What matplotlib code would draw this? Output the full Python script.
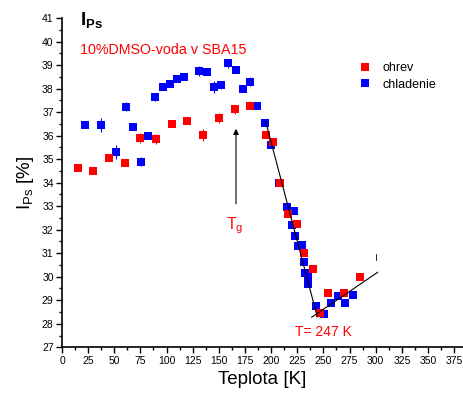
import matplotlib
matplotlib.use('Agg')
import matplotlib.pyplot as plt
from matplotlib.lines import Line2D
from matplotlib.ticker import MultipleLocator

plt.rcParams['font.family'] = ['Liberation Sans', 'DejaVu Sans']
plt.rcParams['mathtext.fontset'] = 'custom'
plt.rcParams['mathtext.rm'] = 'Liberation Sans'
plt.rcParams['mathtext.bf'] = 'Liberation Sans:bold'

# ohrev (heating)
t_ohrev = [15, 30, 45, 60, 75, 90, 105, 120, 135, 150, 165, 180, 195, 202, 208.5,
           215.8, 225, 231.7, 239.7, 246.7, 254.7, 270, 285]
i_ohrev = [34.64, 34.48, 35.03, 34.84, 35.9, 35.86, 36.48, 36.61, 36.03, 36.74, 37.12, 37.27,
           36.03, 35.74, 33.97, 32.65, 32.23, 31.0, 30.33, 28.47, 29.31, 29.32, 29.98]
e_ohrev = [0, 0, 0, 0.12, 0.2, 0.2, 0, 0.05, 0.25, 0.2, 0.2, 0.15,
           0.1, 0, 0.05, 0.1, 0, 0, 0, 0, 0, 0, 0.05]

# chladenie (cooling)
t_chlad = [22, 37, 51.6, 60.9, 68.2, 75.2, 82.2, 88.9, 96.3, 103.3, 110.3, 117, 131.3, 138.3,
           145.3, 151.7, 159, 166, 172.8, 179.8, 186.8, 194.1, 200.2, 207.8, 214.8, 222.2,
           220.2, 222.9, 225.9, 229.8, 231.4, 232.4, 235.5, 235.5, 242.9, 250.8, 257.2,
           263.6, 270.6, 278]
i_chlad = [36.45, 36.45, 35.29, 37.23, 36.38, 34.89, 35.98, 37.63, 38.05, 38.2, 38.42, 38.49,
           38.75, 38.72, 38.08, 38.15, 39.07, 38.78, 38.0, 38.29, 37.27, 36.52, 35.6, 33.97,
           32.98, 32.81, 32.2, 31.73, 31.31, 31.35, 30.64, 30.17, 30.0, 29.68, 28.76, 28.4,
           28.9, 29.2, 28.87, 29.22]
e_chlad = [0.1, 0.3, 0.3, 0.2, 0.15, 0.2, 0, 0.15, 0, 0, 0.05, 0.05, 0.2, 0,
           0.25, 0.15, 0.2, 0.05, 0, 0.2, 0.15, 0, 0, 0, 0, 0,
           0, 0, 0, 0, 0, 0, 0, 0, 0, 0, 0, 0, 0, 0]

# fitted lines
fit1_t = [194.8, 244.1]
fit1_i = [36.59, 28.3]
fit2_t = [238.8, 301.9]
fit2_i = [28.28, 30.19]

red = '#ff0000'
blue = '#0000ff'

fig = plt.figure(figsize=(4.63, 3.96), dpi=100)
ax = fig.add_axes([62 / 463, 48.7 / 396, (463 - 62) / 463, 329.3 / 396])

ax.errorbar(t_chlad, i_chlad, yerr=e_chlad, fmt='s', color=blue, ms=6, mew=0,
            elinewidth=0.8, capsize=3, capthick=0.8, zorder=3)
ax.errorbar(t_ohrev, i_ohrev, yerr=e_ohrev, fmt='s', color=red, ms=6, mew=0,
            elinewidth=0.8, capsize=3, capthick=0.8, zorder=4)

ax.plot(fit1_t, fit1_i, color='k', lw=0.8, zorder=5)
ax.plot(fit2_t, fit2_i, color='k', lw=0.8, zorder=5)
ax.plot([300, 300], [30.72, 30.98], color='k', lw=0.6)

ax.annotate('', xy=(166.4, 36.41), xytext=(166.4, 32.98),
            arrowprops=dict(arrowstyle='-|>', color='k', lw=0.8, mutation_scale=8))
ax.text(165.4, 32.18, r'T$_\mathregular{g}$', color=red, fontsize=11.5, ha='center', va='center')
ax.text(249.6, 27.64, 'T= 247 K', color=red, fontsize=10, ha='center', va='center')

ax.text(0.045, 1.025, r'$\mathbf{I_{Ps}}$', transform=ax.transAxes, fontsize=13.5,
        ha='left', va='top')
ax.text(0.045, 0.925, '10%DMSO-voda v SBA15', transform=ax.transAxes, color=red,
        fontsize=10.3, ha='left', va='top')

handles = [Line2D([], [], ls='none', marker='s', color=red, ms=6, mew=0),
           Line2D([], [], ls='none', marker='s', color=blue, ms=6, mew=0)]
ax.legend(handles, ['ohrev', 'chladenie'], loc='upper left', bbox_to_anchor=(0.74, 0.865),
          frameon=False, fontsize=9, handlelength=1, handletextpad=0.9, labelspacing=0.35,
          borderpad=0, borderaxespad=0)

ax.set_xlim(0, (463 - 62) / 1.0457)
ax.set_ylim(27, 41)
ax.xaxis.set_major_locator(MultipleLocator(25))
ax.xaxis.set_minor_locator(MultipleLocator(12.5))
ax.yaxis.set_major_locator(MultipleLocator(1))
ax.yaxis.set_minor_locator(MultipleLocator(0.5))
ax.tick_params(which='major', direction='out', length=4, width=1, labelsize=7.5, pad=2)
ax.tick_params(which='minor', direction='out', length=2.5, width=1)
ax.spines['top'].set_visible(False)
ax.spines['right'].set_visible(False)
ax.spines['left'].set_linewidth(1.2)
ax.spines['bottom'].set_linewidth(1.2)

ax.set_xlabel('Teplota [K]', fontsize=13.5, labelpad=4)
ax.set_ylabel(r'$\mathregular{I_{Ps}}$ [%]', fontsize=13.5, labelpad=4)

fig.savefig('out.png', dpi=100)
